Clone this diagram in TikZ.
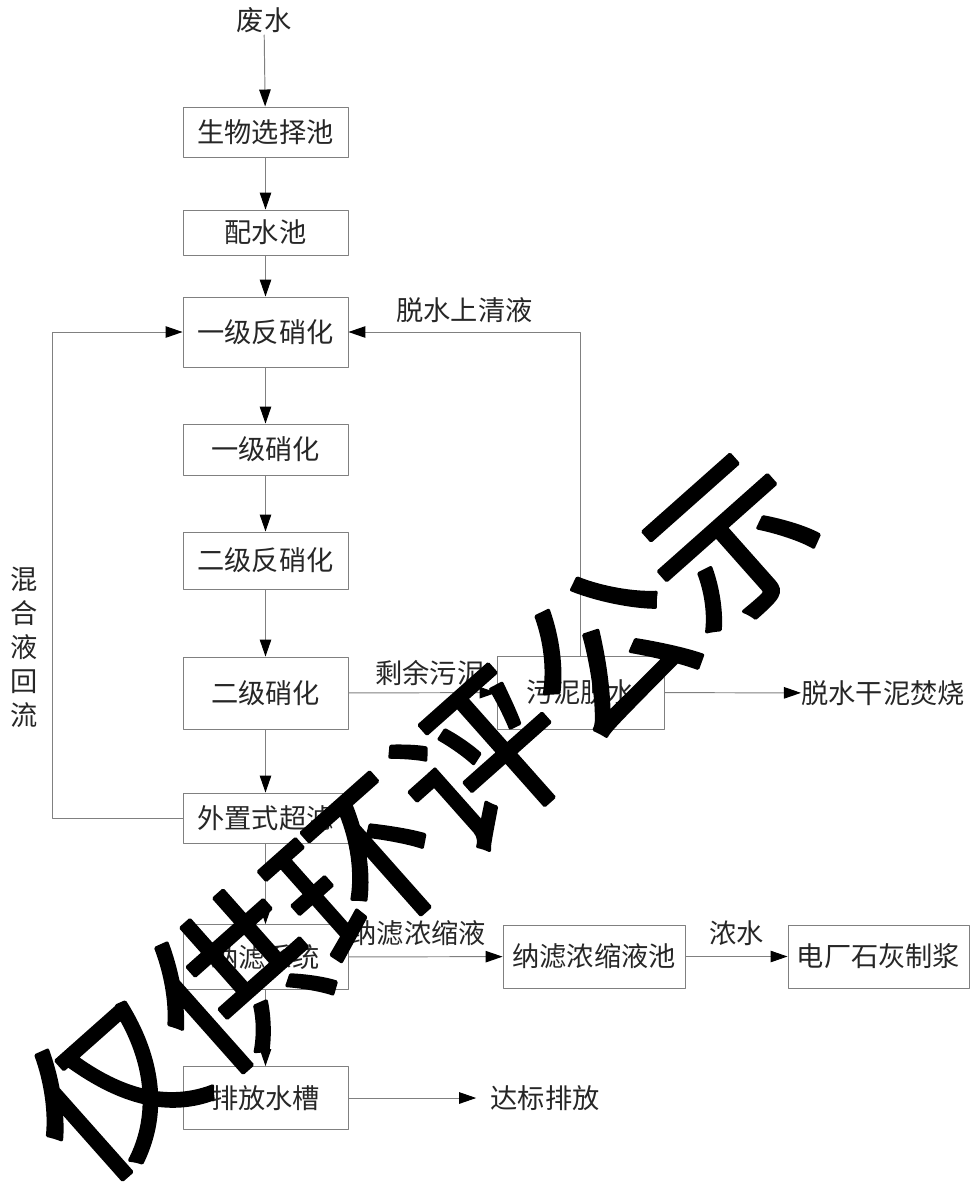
\documentclass[tikz,border=0pt]{standalone}
\usepackage{fontspec}
\newfontfamily\cjk{Noto Sans CJK SC}
\newfontfamily\markfont[FakeBold=2]{Noto Sans CJK SC}
\usetikzlibrary{arrows.meta,positioning}
\begin{document}
\begin{tikzpicture}[x=0.02cm, y=-0.02cm, line join = round,
    font=\cjk\fontsize{15.5}{18}\selectfont,
    box/.style={draw=black!50, line width=0.55pt, text=black!85, minimum width=3.3cm, inner sep=0pt},
    lbl/.style={text=black!85, inner sep=1pt},
    flow/.style={draw=black!50, line width=0.55pt, -{Triangle[length=0.34cm, width=0.23cm, black]}}]
      \useasboundingbox (0,0) rectangle (971,1184);

      % main line
      \node[lbl] (in) at (264,20) {废水};
      \node[box, minimum height=1.0cm] (bio) at (265.5,132) {生物选择池};
      \node[box, minimum height=0.9cm] (mix) at (265.5,232.5) {配水池};
      \node[box, minimum height=1.4cm] (dn1) at (265.5,332) {一级反硝化};
      \node[box, minimum height=1.02cm] (n1) at (265.5,449.5) {一级硝化};
      \node[box, minimum height=1.14cm] (dn2) at (265.5,560.5) {二级反硝化};
      \node[box, minimum height=1.44cm] (n2) at (265.5,693) {二级硝化};
      \node[box, minimum height=1.0cm] (uf) at (265.5,818) {外置式超滤};
      \node[box, minimum height=1.3cm] (nf) at (265.5,957) {纳滤系统};
      \node[box, minimum height=1.26cm] (tank) at (265.5,1098) {排放水槽};

      % side boxes
      \node[box, minimum width=3.34cm, minimum height=1.46cm] (sludge) at (580.5,692.5) {污泥脱水};
      \node[box, minimum width=3.64cm, minimum height=1.26cm] (conc) at (594,956.5) {纳滤浓缩液池};
      \node[box, minimum width=3.62cm, minimum height=1.26cm] (lime) at (878.5,956.5) {电厂石灰制浆};
      \node[lbl, inner sep=0pt] (burn) at (883,693) {脱水干泥焚烧};
      \node[lbl, inner sep=0pt] (out) at (545,1098) {达标排放};

      \draw[flow] (in) -- (bio);
      \draw[flow] (bio) -- (mix);
      \draw[flow] (mix) -- (dn1);
      \draw[flow] (dn1) -- (n1);
      \draw[flow] (n1) -- (dn2);
      \draw[flow] (dn2) -- (n2);
      \draw[flow] (n2) -- (uf);
      \draw[flow] (uf) -- (nf);
      \draw[flow] (nf) -- (tank);

      \draw[flow] (n2) -- node[lbl, above=3pt, pos=0.55] {剩余污泥} (sludge);
      \draw[flow] (sludge) -- (burn);
      \draw[flow] (sludge.north) |- node[lbl, above=4pt, pos=0.75] {脱水上清液} (dn1.east);
      \coordinate (back) at (52,818);
      \draw[flow] (uf.west) -- (back) |- (dn1.west);
      \node[lbl, align=center, font=\cjk\fontsize{15.5}{19.3}\selectfont] (ret) at (24,647) {混\\合\\液\\回\\流};
      \draw[flow] (nf) -- node[lbl, above=5pt, pos=0.45] {纳滤浓缩液} (conc);
      \draw[flow] (conc) -- node[lbl, above=5pt] {浓水} (lime);
      \draw[flow, shorten >=0.28cm] (tank) -- (out);

      % watermark
      \node[inner sep=0pt, rotate=41.6, font=\markfont\fontsize{94}{94}\selectfont] (mark) at (420,815) {仅供环评公示};
    \end{tikzpicture}
\end{document}
